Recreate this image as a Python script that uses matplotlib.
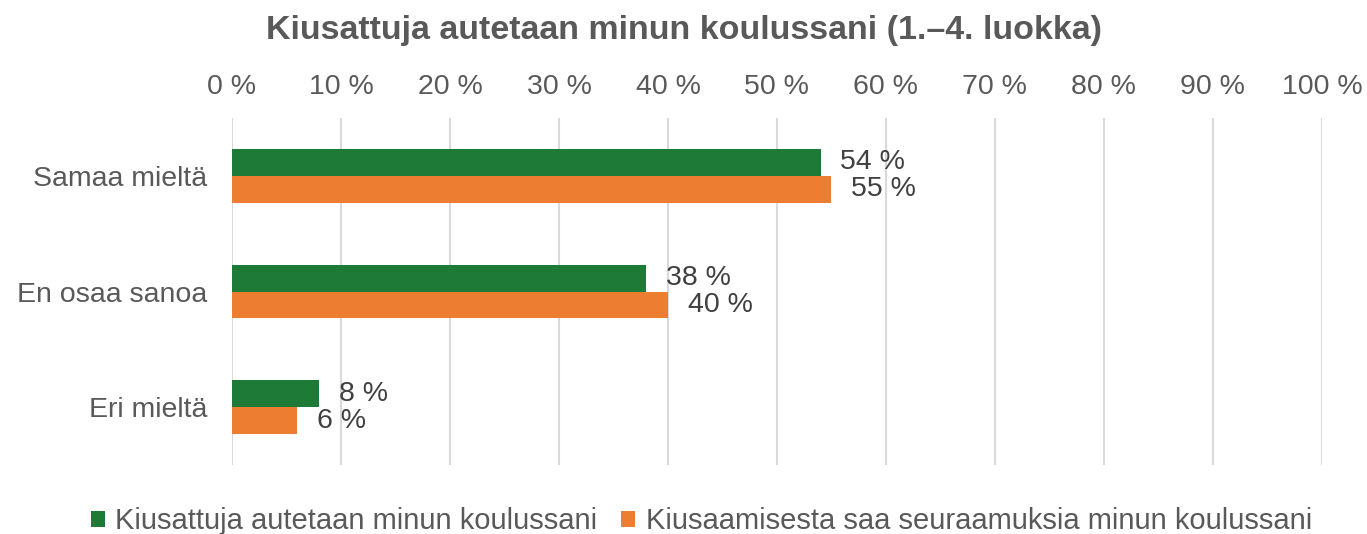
import matplotlib.pyplot as plt
import numpy as np

plt.rcParams['font.family'] = ['Liberation Sans', 'DejaVu Sans']

categories = ["Samaa mieltä", "En osaa sanoa", "Eri mieltä"]
series_names = ["Kiusattuja autetaan minun koulussani",
                "Kiusaamisesta saa seuraamuksia minun koulussani"]
helped = [54, 38, 8]
consequences = [55, 40, 6]
colors = ["#1E7B37", "#ED7D31"]

fig = plt.figure(figsize=(13.67, 5.34), dpi=100)
ax = fig.add_axes([0.1697, 0.1292, 0.7973, 0.6498])

y = np.arange(len(categories))
h = 0.233
b1 = ax.barh(y - h / 2, helped, height=h, color=colors[0], label=series_names[0])
b2 = ax.barh(y + h / 2, consequences, height=h, color=colors[1], label=series_names[1])

for bars, vals in ((b1, helped), (b2, consequences)):
    for bar, v in zip(bars, vals):
        ax.text(v + 1.8, bar.get_y() + bar.get_height() / 2, f"{v} %",
                va='center', ha='left', fontsize=20.5, color='#404040')

ax.set_xlim(0, 100)
ax.set_ylim(2.5, -0.5)
ax.set_xticks(np.arange(0, 101, 10))
ax.set_xticklabels([f"{t} %" for t in range(0, 101, 10)])
ax.xaxis.tick_top()
ax.set_yticks(y)
ax.set_yticklabels(categories)
ax.tick_params(axis='both', length=0, labelsize=20.5, colors='#595959')
ax.tick_params(axis='x', pad=13)
ax.tick_params(axis='y', pad=18)
for s in ax.spines.values():
    s.set_visible(False)
ax.grid(axis='x', color='#D9D9D9', linewidth=1.5)
ax.set_axisbelow(True)

fig.text(0.5, 0.942, "Kiusattuja autetaan minun koulussani (1.–4. luokka)",
         ha='center', va='center', fontsize=24.5, fontweight='bold', color='#595959')

fig.legend(loc='center', bbox_to_anchor=(0.513, 0.024), ncol=2, frameon=False,
           fontsize=21, handlelength=0.5, handleheight=0.5, handletextpad=0.35,
           columnspacing=0.8, labelcolor='#595959')

fig.savefig("out.png", dpi=100)
